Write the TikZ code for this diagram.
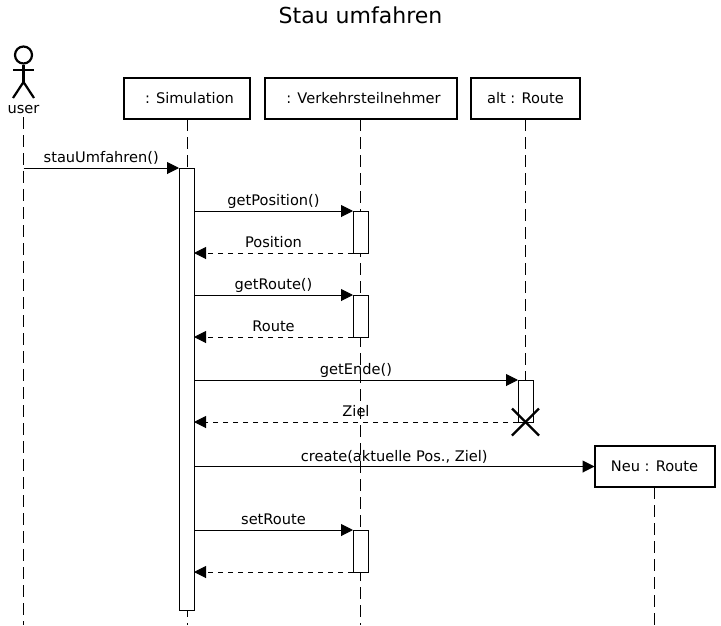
\documentclass[tikz,border=0pt]{standalone}
\usepackage{fontspec}
\setmainfont{DejaVu Sans}
\usetikzlibrary{arrows.meta}
\usetikzlibrary{positioning}
\tikzset{objbox/.style = {draw, line width = 2, minimum height = 41, inner sep = 0, outer sep = 0, font = \fontsize{14.6}{17}\selectfont}}
\tikzset{bar/.style = {draw, fill = white, line width = 1, minimum width = 15, inner sep = 0, outer sep = 0}}
\tikzset{life/.style = {line width = 1, dash pattern = on 12 off 6}}
\tikzset{msg/.style = {line width = 1, -{Triangle[length = 12, width = 12]}}}
\tikzset{ret/.style = {line width = 1, dash pattern = on 5.5 off 4.5, -{Triangle[length = 12, width = 12]}}}
\tikzset{lab/.style = {above, inner sep = 0, yshift = 2, text depth = 3, font = \fontsize{14.6}{17}\selectfont}}
\tikzset{actor/.style = {line width = 2.2}}

\begin{document}
\begin{tikzpicture}[x=1pt, y=-1pt]
  \useasboundingbox (0, 0) rectangle (721, 625);
  \node [font = \fontsize{22}{26}\selectfont] (title) at (360.5, 15) {Stau umfahren};

  % actor
  \node [draw, circle, line width = 2.2, minimum size = 17, inner sep = 0] (head) at (23.5, 55) {};
  \coordinate (hip) at (23.5, 82);
  \coordinate (armL) at (13, 70);
  \coordinate (armR) at (34, 70);
  \coordinate (footL) at (13, 98);
  \coordinate (footR) at (34, 98);
  \draw [actor] (head) -- (hip);
  \draw [actor] (armL) -- (armR);
  \draw [actor] (footL) -- (hip) -- (footR);
  \node [font = \fontsize{14.6}{17}\selectfont, inner sep = 0] (user) at (23.5, 110) {user};

  % objects
  \node [objbox, minimum width = 126] (sim) at (187, 98.5) {\hspace*{5pt}: Simulation};
  \node [objbox, minimum width = 192] (verk) at (360.5, 98.5) {\hspace*{6pt}: Verkehrsteilnehmer};
  \node [objbox, minimum width = 109] (alt) at (525.5, 98.5) {alt : Route};
  \node [objbox, minimum width = 120, fill = white] (neu) at (654.5, 466.5) {Neu : Route};

  % lifelines
  \coordinate (bottom) at (0, 625);
  \coordinate (cross) at (525.5, 422);
  \draw [life] (user.south) ++(0, 3) -- (user |- bottom);
  \draw [life] (sim) ++(0, 20.5) -- (sim |- bottom);
  \draw [life] (verk) ++(0, 20.5) -- (verk |- bottom);
  \draw [life] (alt.south) -- (cross);
  \draw [life] (neu.south) -- (neu |- bottom);

  % activations
  \node [bar, minimum height = 442] (simBar) at (186.5, 389) {};
  \node [bar, minimum height = 42] (posBar) at (360.5, 232) {};
  \node [bar, minimum height = 42] (routeBar) at (360.5, 316) {};
  \node [bar, minimum height = 42] (endeBar) at (525.5, 401) {};
  \node [bar, minimum height = 42] (setBar) at (360.5, 551) {};

  % messages
  \draw [msg] (user |- simBar.north) -- node [lab] {stauUmfahren()} (simBar.north west);
  \draw [msg] (simBar.east |- posBar.north) -- node [lab] {getPosition()} (posBar.north west);
  \draw [ret] (posBar.south west) -- node [lab] {Position} (simBar.east |- posBar.south);
  \draw [msg] (simBar.east |- routeBar.north) -- node [lab] {getRoute()} (routeBar.north west);
  \draw [ret] (routeBar.south west) -- node [lab] {Route} (simBar.east |- routeBar.south);
  \draw [msg] (simBar.east |- endeBar.north) -- node [lab] {getEnde()} (endeBar.north west);
  \draw [ret] (endeBar.south west) -- node [lab] {Ziel} (simBar.east |- endeBar.south);
  \draw [msg] (simBar.east |- neu.west) -- node [lab] {create(aktuelle Pos., Ziel)} (neu.west);
  \draw [msg] (simBar.east |- setBar.north) -- node [lab] {setRoute} (setBar.north west);
  \draw [ret] (setBar.south west) -- (simBar.east |- setBar.south);

  % destroy
  \draw [line width = 2.2] (cross) ++(-13.5, -13.5) -- ++(27, 27);
  \draw [line width = 2.2] (cross) ++(-13.5, 13.5) -- ++(27, -27);
\end{tikzpicture}
\end{document}
